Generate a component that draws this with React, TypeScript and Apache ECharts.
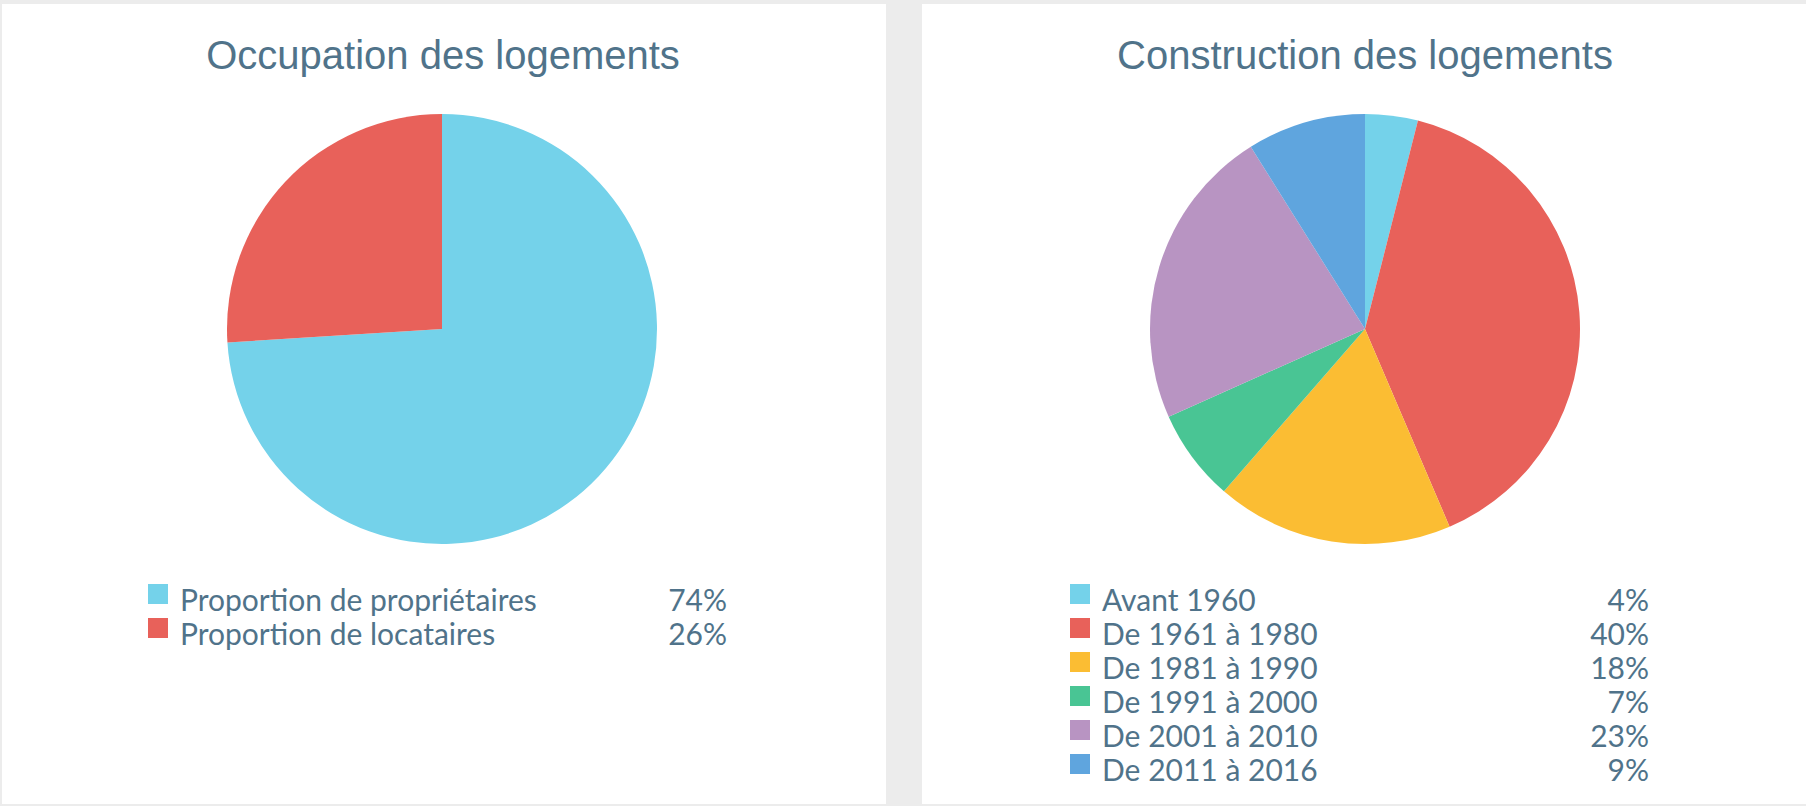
import React, { useEffect, useRef } from "react";
import * as echarts from "echarts";

const occupationTitle = "Occupation des logements";
const occupationNames = ["Proportion de propriétaires", "Proportion de locataires"];
const occupationValues = [74, 26];
const occupationColors = ["#74d2ea", "#e8615a"];

const constructionTitle = "Construction des logements";
const constructionNames = [
  "Avant 1960",
  "De 1961 à 1980",
  "De 1981 à 1990",
  "De 1991 à 2000",
  "De 2001 à 2010",
  "De 2011 à 2016",
];
const constructionValues = [4, 40, 18, 7, 23, 9];
const constructionColors = ["#74d2ea", "#e8615a", "#fbbd33", "#49c594", "#b894c2", "#5fa5de"];

const textColor = "#50738a";

// square marker at the top-left of a 27x30 box (text sits slightly lower, with a gap)
const legendIcon = "path://M0,0L20,0L20,20L0,20ZM27,30L27,30";

function makeFormatter(names: string[], values: number[]) {
  return (name: string) => {
    const i = names.indexOf(name);
    return `{n|${name}}{v|${values[i]}%}`;
  };
}

const richStyle = {
  n: {
    fontFamily: "Lato",
    fontSize: 30,
    color: textColor,
    width: 467,
    lineHeight: 30,
  },
  v: {
    fontFamily: "Lato",
    fontSize: 30,
    color: textColor,
    width: 80,
    align: "right",
    lineHeight: 30,
  },
};

function makeLegend(left: number, names: string[], values: number[]) {
  return {
    orient: "vertical",
    left,
    top: 584,
    padding: 0,
    itemWidth: 27,
    itemHeight: 30,
    itemGap: 4,
    icon: legendIcon,
    selectedMode: false,
    data: names,
    formatter: makeFormatter(names, values),
    textStyle: { rich: richStyle },
  };
}

export default function App() {
  const ref = useRef<HTMLDivElement>(null);
  useEffect(() => {
    if (!ref.current) return;
    const chart = echarts.init(ref.current, undefined, { renderer: "svg" });
    chart.setOption({
      animation: false,
      backgroundColor: "#ececec",
      graphic: [
        { type: "rect", z: -10, shape: { x: 2, y: 4, width: 884, height: 800 }, style: { fill: "#ffffff" } },
        { type: "rect", z: -10, shape: { x: 922, y: 4, width: 884, height: 800 }, style: { fill: "#ffffff" } },
      ],
      title: [
        {
          text: occupationTitle,
          left: 438,
          top: 30,
          textAlign: "center",
          textStyle: { fontFamily: "Liberation Sans", fontSize: 40, fontWeight: "normal", color: textColor },
        },
        {
          text: constructionTitle,
          left: 1360,
          top: 30,
          textAlign: "center",
          textStyle: { fontFamily: "Liberation Sans", fontSize: 40, fontWeight: "normal", color: textColor },
        },
      ],
      legend: [
        makeLegend(148, occupationNames, occupationValues),
        makeLegend(1070, constructionNames, constructionValues),
      ],
      series: [
        {
          type: "pie",
          center: [442, 329],
          radius: 215,
          startAngle: 90,
          label: { show: false },
          labelLine: { show: false },
          emphasis: { disabled: true },
          silent: true,
          data: occupationNames.map((name, i) => ({
            name,
            value: occupationValues[i],
            itemStyle: { color: occupationColors[i] },
          })),
        },
        {
          type: "pie",
          center: [1365, 329],
          radius: 215,
          startAngle: 90,
          label: { show: false },
          labelLine: { show: false },
          emphasis: { disabled: true },
          silent: true,
          data: constructionNames.map((name, i) => ({
            name,
            value: constructionValues[i],
            itemStyle: { color: constructionColors[i] },
          })),
        },
      ],
    });
    return () => chart.dispose();
  }, []);
  return (
    <div
      ref={ref}
      style={{ position: "fixed", left: 0, top: 0, width: 1806, height: 806 }}
    />
  );
}
